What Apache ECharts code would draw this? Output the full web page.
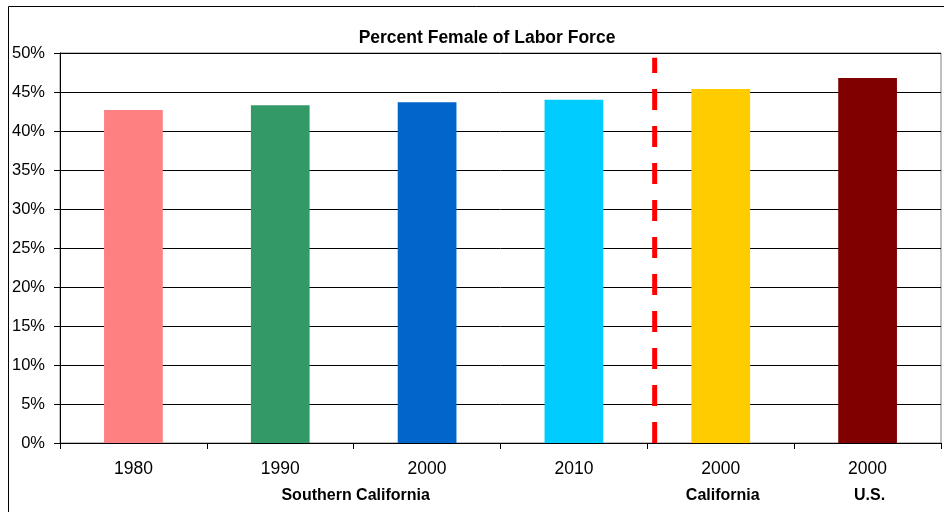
<!DOCTYPE html>
<html>
<head>
<meta charset="utf-8">
<script src="https://cdn.jsdelivr.net/npm/echarts@6/dist/echarts.min.js"></script>
<style>
html, body { margin: 0; padding: 0; background: #fff; }
#main { width: 944px; height: 512px; }
</style>
</head>
<body>
<div id="main"></div>
<script>
var years = ['1980', '1990', '2000', '2010', '2000', '2000'];
var values = [42.7, 43.3, 43.7, 44.0, 45.4, 46.8];
var barColors = ['#FF8080', '#339966', '#0066CC', '#00CCFF', '#FFCC00', '#800000'];
var groups = [
	{ name: 'Southern California', from: 0, to: 3 },
	{ name: 'California', from: 4, to: 4 },
	{ name: 'U.S.', from: 5, to: 5 }
];
var dividerX = 4.05; // position of the red dashed divider in category units
var dividerTop = 49.4;

var chartDom = document.getElementById('main');
var myChart = echarts.init(chartDom);
var font = 'Liberation Sans, Arial, sans-serif';

var option = {
	animation: false,
	title: {
		text: 'Percent Female of Labor Force',
		left: 482,
		top: 24,
		textAlign: 'center',
		textStyle: { fontFamily: font, fontSize: 17.5, fontWeight: 'bold', color: '#000' }
	},
	grid: {
		left: 60, right: 3, top: 53, bottom: 69,
		show: true, borderColor: '#808080', borderWidth: 1
	},
	xAxis: [
		{
			type: 'category',
			data: years,
			axisLine: { lineStyle: { color: '#000', width: 1 } },
			axisTick: { show: true, length: 6, lineStyle: { color: '#000' } },
			axisLabel: { fontFamily: font, fontSize: 17.5, color: '#000', margin: 17 },
			splitLine: { show: false }
		},
		{
			type: 'value', min: 0, max: 6, show: false
		}
	],
	yAxis: {
		type: 'value',
		min: 0, max: 50, interval: 5,
		axisLine: { show: true, lineStyle: { color: '#000', width: 1 } },
		axisTick: { show: true, length: 6, lineStyle: { color: '#000' } },
		axisLabel: { fontFamily: font, fontSize: 16.5, color: '#000', margin: 15, formatter: '{value}%' },
		splitLine: { show: true, lineStyle: { color: '#000', width: 1 } }
	},
	series: [
		{
			type: 'bar',
			barWidth: '40%',
			data: values.map(function (v, i) {
				return { value: v, itemStyle: { color: barColors[i] } };
			})
		},
		{
			type: 'line',
			xAxisIndex: 1,
			symbol: 'none',
			data: [[dividerX, 0], [dividerX, dividerTop]],
			lineStyle: { color: '#FF0000', width: 5, type: [21, 16], cap: 'butt' },
			z: 5
		}
	]
};

option && myChart.setOption(option);

// group labels under the years, plus the outer frame
var graphics = [{
	type: 'rect',
	shape: { x: 8.5, y: 6.5, width: 1000, height: 1000 },
	style: { fill: 'none', stroke: '#000', lineWidth: 1 },
	silent: true
}];
groups.forEach(function (g) {
	var x1 = myChart.convertToPixel({ xAxisIndex: 0 }, g.from);
	var x2 = myChart.convertToPixel({ xAxisIndex: 0 }, g.to);
	graphics.push({
		type: 'text',
		x: (x1 + x2) / 2 + 2,
		y: 496,
		style: {
			text: g.name,
			fontFamily: font, fontSize: 16, fontWeight: 'bold', fill: '#000',
			textAlign: 'center', textVerticalAlign: 'middle'
		}
	});
});
myChart.setOption({ graphic: graphics });
</script>
</body>
</html>
